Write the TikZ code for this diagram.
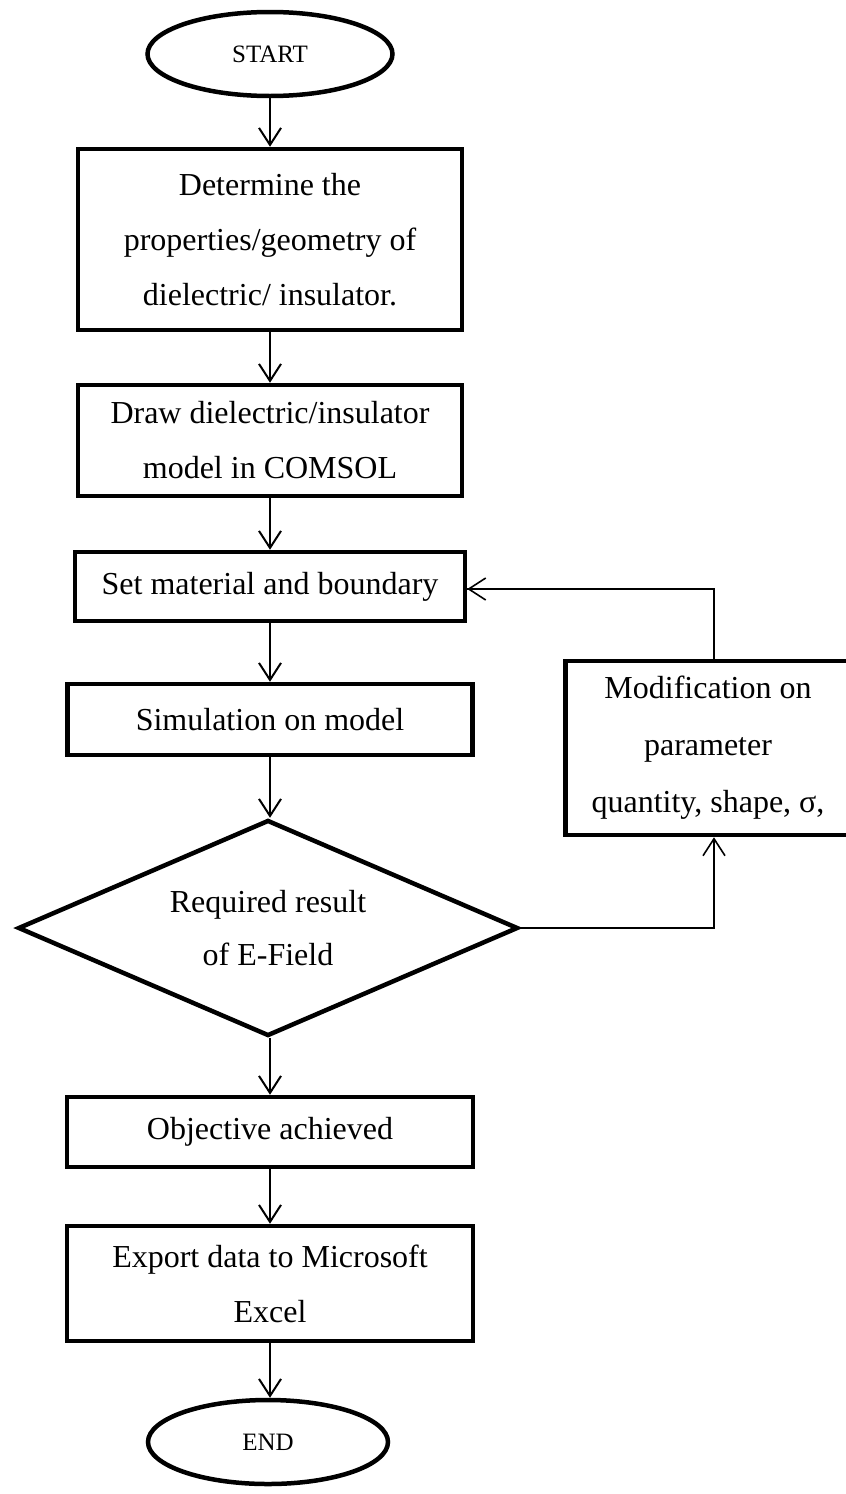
\documentclass[tikz,border=0pt]{standalone}
\usepackage{fontspec}
\setmainfont{Liberation Serif}
\usetikzlibrary{shapes.geometric,arrows.meta}
\tikzset{
  boxnode/.style={draw, line width=4.5pt, rectangle, align=center, inner sep=0pt,
    font=\fontsize{32}{55}\selectfont},
  termnode/.style={draw, line width=4.5pt, ellipse, inner sep=0pt,
    font=\fontsize{25}{30}\selectfont},
  decnode/.style={draw, line width=4.5pt, diamond, inner sep=0pt},
  flow/.style={line width=2pt, -{Straight Barb[length=17pt,width=22pt]}},
  fbline/.style={line width=1.6pt},
  fbarrow/.style={line width=1.6pt, -{Straight Barb[length=17pt,width=22pt]}}
}
\begin{document}
\begin{tikzpicture}[x=1pt,y=-1pt]
\useasboundingbox (0,0) rectangle (846,1494);
\node[termnode, minimum width=245pt, minimum height=84pt] (start) at (270,54) {START};
\node[boxnode, minimum width=384pt, minimum height=181pt] (b1) at (270,239.5)
  {Determine the\\properties/geometry of\\dielectric/ insulator.};
\node[boxnode, minimum width=384pt, minimum height=111pt] (b2) at (270,440.5)
  {Draw dielectric/insulator\\model in COMSOL};
\node[boxnode, minimum width=390pt, minimum height=69pt] (set) at (270,586.5)
  {Set material and boundary};
\node[boxnode, minimum width=405pt, minimum height=71pt] (sim) at (270,719.5)
  {Simulation on model};
\node[decnode, minimum width=500pt, minimum height=216pt] (dia) at (268,928) {};
\node[font=\fontsize{32}{53}\selectfont, align=center, inner sep=0pt] (dtext) at (dia.center)
  {Required result\\of E-Field};
\node[boxnode, minimum width=406pt, minimum height=70pt] (obj) at (270,1132)
  {Objective achieved};
\node[boxnode, minimum width=406pt, minimum height=115pt] (exp) at (270,1283.5)
  {Export data to Microsoft\\Excel};
\node[termnode, minimum width=240pt, minimum height=84pt] (end) at (268,1442) {END};
\node[boxnode, minimum width=285pt, minimum height=174pt, font=\fontsize{32}{57}\selectfont] (mod) at (708,748)
  {Modification on\\parameter\\quantity, shape, σ,};
\coordinate (c1) at (714,589);
\coordinate (c2) at (714,926);
\draw[flow] (start.south) -- (b1.north);
\draw[flow] (b1.south) -- (b2.north);
\draw[flow] (b2.south) -- (set.north);
\draw[flow] (set.south) -- (sim.north);
\draw[flow] (sim.south) -- (dia.north -| sim.south);
\draw[flow] (dia.south -| obj.north) -- (obj.north);
\draw[flow] (obj.south) -- (exp.north);
\draw[flow] (exp.south) -- (end.north -| exp.south);
\draw[fbline] (mod.north -| c1) -- (c1) -- (set.east |- c1);
\draw[fbarrow] (set.east |- c1) ++(1pt,0) -- (set.east |- c1);
\draw[fbarrow] (dia.east) -| (mod.south -| c2);
\end{tikzpicture}
\end{document}
